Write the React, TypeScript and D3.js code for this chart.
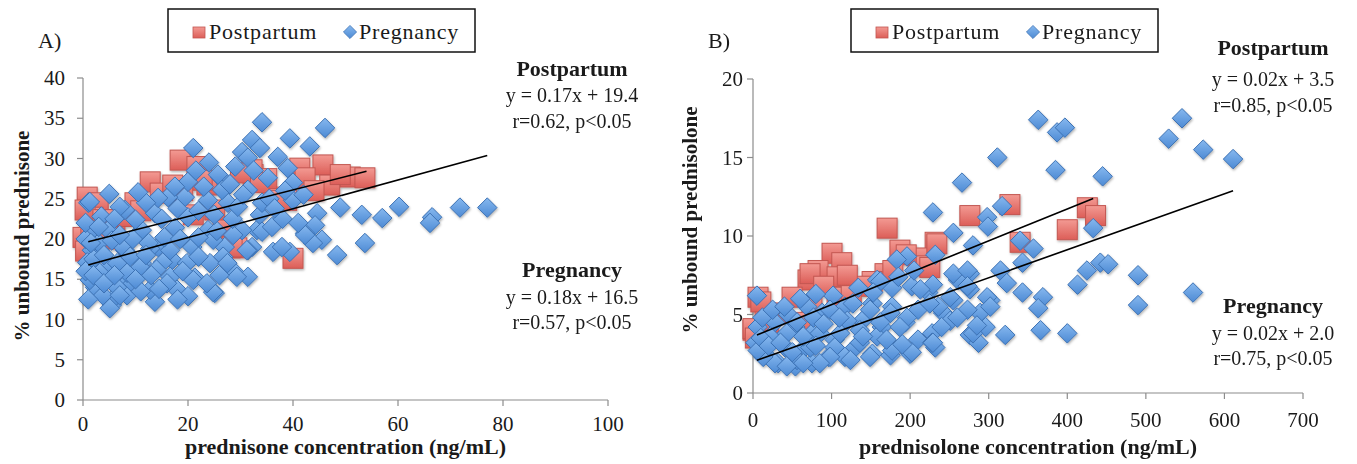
import React from "react";
import * as d3 from "d3";

// ---- Panel A: prednisone ----
const aTicksX = [0, 20, 40, 60, 80, 100];
const aTicksY = [0, 5, 10, 15, 20, 25, 30, 35, 40];

const aPostpartum: [number, number][] = [
  [18.5, 29.8], [21.7, 29], [12.8, 27.1], [32.4, 28], [41.3, 28.8], [45.7, 29.2], [50.9, 27.7],
  [53.7, 27.6], [42.3, 27.6], [47, 26.7], [0.8, 25.2], [2.9, 24.5], [36.2, 25.2], [38.8, 24.8],
  [14.7, 25.7], [17.1, 26.7], [9.9, 24.5], [23.6, 26.7], [1.9, 22.7], [4.6, 22], [0, 20.2],
  [26.7, 21.5], [29.3, 18.9], [40, 17.6], [28, 18.9], [0.4, 23.6], [3.8, 22.4], [6.1, 22.4],
  [22.7, 27.3], [32.2, 28.6], [25.1, 23.6], [28.4, 19], [35, 27.5], [37.5, 24.8], [0.5, 18.5],
  [1.5, 21], [8, 22.8], [11, 23.5], [19, 26], [21, 23], [33.5, 27], [30, 28.2], [2.5, 20.5],
  [6, 20], [44, 26], [49, 28],
];

const aPregnancy: [number, number][] = [
  [34.1, 34.5], [39.4, 32.5], [46.1, 33.8], [43.2, 31.5], [21, 31.3], [32.2, 32.3], [30.3, 30.8],
  [33.7, 31.3], [31.4, 30.1], [37.1, 30.2], [39, 28.8], [35.2, 27.6], [40, 27], [26.1, 27.7],
  [1, 24.5], [49, 23.9], [53.1, 23], [57, 22.6], [60.2, 24], [66.5, 22.7], [66.1, 22], [71.8, 23.9],
  [77, 23.9], [44.6, 23.2], [44.2, 21.7], [42.3, 20.7], [45.5, 19.9], [43.8, 19.5], [53.7, 19.5],
  [48.4, 18], [36.2, 18.4], [39.4, 18.4], [37.9, 19], [40, 24.8], [33.1, 21.1], [33.7, 23],
  [32.2, 19], [29, 15.8], [13.7, 12.2], [5.5, 11.8], [2.3, 14], [17.9, 13.7], [25.1, 13.3],
  [8.6, 14.7], [21.3, 15.2], [24.2, 17], [11.2, 17], [17, 17.4], [4.8, 16.5], [1.7, 18.6],
  [8, 18.6], [14.3, 19], [20.8, 19], [27, 19], [31.4, 18.6], [34.1, 20.9], [30.3, 21.1],
  [23.8, 21.1], [17.5, 21.4], [11.2, 21.1], [4.8, 21.1], [2.3, 21.1], [8, 23.6], [13.7, 23.2],
  [20, 22.7], [23.8, 24.8], [27.6, 24.5], [34.1, 24.5], [19.4, 25.2], [16.2, 25.2], [26.5, 26.1],
  [20, 27.1], [25.7, 28], [31.4, 26.1], [31.4, 15.3], [6.1, 12.8], [7, 24], [14.3, 25.1],
  [1.3, 24.6], [5.1, 11.4], [24.8, 13.4], [29.3, 15.3], [2.7, 13.7], [8.4, 13], [21, 14.9],
  [0.8, 17.1], [42.3, 20.5], [26.7, 17.8], [31.2, 18.6], [9.5, 14.5], [12.8, 13.7], [16.6, 15.3],
  [23.6, 14.5], [19.8, 17], [15.2, 17.1], [10.9, 16.5], [6.5, 17], [3.2, 15.8], [1.3, 14.9],
  [8.4, 15.8], [16.6, 18.6], [12.8, 18.8], [7.6, 19], [3.2, 18.6], [24.8, 19.9], [28.6, 20.5],
  [3, 19.5], [5.5, 19.8], [9.5, 20], [12.5, 19.5], [15.5, 20.2], [18.5, 20], [22, 20.2],
  [25.5, 21], [28.5, 22.5], [3.5, 22.8], [6, 22.5], [10, 22.4], [12, 24.5], [15, 22.5],
  [18, 23.8], [22, 23.5], [25, 23], [29.5, 24], [30.5, 25.5], [28, 26.8], [23, 26.5],
  [17.5, 26.5], [10.5, 25.8], [5, 25.6], [2, 17.5], [4, 18], [7, 20.5], [9, 17.8], [12, 18],
  [14, 16.2], [16, 14.5], [19, 16], [22, 17.8], [26, 15.5], [27.5, 17], [3.8, 13], [6.5, 14],
  [11, 13.5], [14.5, 13.8], [20, 12.9], [0.5, 16], [0.5, 20], [0.5, 22], [1, 12.5], [36, 21.5],
  [35.5, 25], [38, 22.5], [41, 22], [38.5, 26], [42, 25.5], [36.5, 23.8], [32.5, 28.5],
  [29, 29], [24, 29.5], [21.5, 28.5], [2, 15.5], [4, 14.5], [6, 15.5], [3, 21.5], [1.5, 19.5],
  [7, 13], [10, 15], [13, 15.5], [18, 12.5],
];

// slope, intercept, x from, x to
const aFitPostpartum = [0.165, 19.5, 1, 54];
const aFitPregnancy = [0.179, 16.6, 1, 77];
const aNotePostpartum = ["Postpartum", "y = 0.17x + 19.4", "r=0.62, p<0.05"];
const aNotePregnancy = ["Pregnancy", "y = 0.18x + 16.5", "r=0.57, p<0.05"];

// ---- Panel B: prednisolone ----
const bTicksX = [0, 100, 200, 300, 400, 500, 600, 700];
const bTicksY = [0, 5, 10, 15, 20];

const bPostpartum: [number, number][] = [
  [170.7, 10.5], [100.6, 8.9], [113, 8.3], [82.8, 7.8], [70, 7.2], [107, 7.4], [49.7, 6.1],
  [6.4, 6.1], [15.3, 5.1], [0, 4], [231.8, 9.6], [187, 9.1], [210, 8.6], [219, 8.1], [168, 7.6],
  [151.6, 7.1], [75, 5.5], [107, 6.1], [31.8, 5.1], [72.6, 7.6], [327, 12], [276, 11.3],
  [340, 9.6], [425.5, 11.8], [436, 11.3], [400, 10.4], [234, 9.5], [0, 4.1], [3, 3.5],
  [10, 5.8], [20, 4.5], [140, 6.8], [195, 8.8], [225, 8], [120, 7.5], [178, 7.8], [60, 4.5],
  [125, 6.2], [90, 6.8],
];

const bPregnancy: [number, number][] = [
  [363, 17.4], [387, 16.6], [397, 16.9], [311, 15], [385, 14.2], [445, 13.8], [266, 13.4],
  [229, 11.5], [317, 11.9], [298, 11.2], [299, 10.6], [255, 10.2], [280, 9.4], [340, 9.7],
  [357, 9.2], [433, 10.5], [343, 8.3], [315, 7.8], [425, 7.8], [442, 8.3], [452, 8.2], [323, 7],
  [413, 6.9], [343, 6.4], [369, 6.1], [363, 5.4], [302, 5.9], [276, 7.6], [261, 7.2], [255, 5.9],
  [276, 6.6], [289, 5.1], [296, 4.2], [276, 3.7], [287, 3.2], [321, 3.7], [366, 4], [400, 3.8],
  [242, 5.1], [232, 2.9], [546, 17.5], [529, 16.2], [573, 15.5], [611, 14.9], [490, 7.5],
  [490, 5.6], [560, 6.4], [5, 6.2], [196, 8.7], [183, 8.5], [232, 8.8], [158, 7.2], [102, 6.2],
  [69, 5.5], [45, 5], [134, 6.7], [177, 6.7], [202, 6.8], [223, 6.4], [117, 5.5], [152, 5.7],
  [177, 5.5], [210, 5.3], [236, 5.5], [88, 5.1], [139, 4.6], [164, 4.2], [194, 4.5], [228, 3.8],
  [210, 3.4], [200, 2.5], [175, 2.4], [152, 2.5], [130, 2.9], [104, 3.4], [75, 3.8], [54, 4.2],
  [28, 4.5], [6, 4.2], [3, 3.2], [15, 2.5], [32, 1.9], [54, 1.7], [75, 1.9], [96, 2.3],
  [117, 2.3], [41, 2.9], [66, 2.9], [228, 3.2], [280, 3.8], [298, 6.1], [302, 5.5], [285, 4.3],
  [255, 7.6], [273, 7.8], [229, 6.9], [229, 3.2], [196, 4.8], [177, 2.7], [202, 2.6], [158, 3.6],
  [136, 3.2], [104, 2.9], [73, 2.9], [56, 2.1], [28, 1.9], [13, 2.3], [6, 2.7], [127, 5.7],
  [162, 7.1], [153, 6.4], [273, 6.8], [251, 6.1], [225, 5.7], [251, 4.6], [273, 5.3], [213, 6.6],
  [175, 5.1], [149, 5.3], [120, 4.6], [98, 5.3], [77, 4.8], [56, 4.5], [43, 3.8], [22, 3.6],
  [64, 3.6], [85, 3.8], [111, 3.8], [136, 4], [162, 4.5], [187, 4.2], [98, 2.3], [124, 2.1],
  [149, 2.3], [85, 1.9], [43, 1.7], [64, 1.9], [10, 3.5], [20, 3], [35, 3.2], [50, 2.6],
  [80, 3], [90, 4.4], [110, 4.8], [140, 3.6], [170, 3.4], [190, 3.1], [240, 4.2], [260, 4.8],
  [12, 4.8], [25, 5.3], [40, 5.5], [60, 6], [80, 6.3], [185, 7.4], [205, 7.8],
];

const bFitPostpartum = [0.0203, 3.6, 5, 433];
const bFitPregnancy = [0.0178, 2.0, 5, 611];
const bNotePostpartum = ["Postpartum", "y = 0.02x + 3.5", "r=0.85, p<0.05"];
const bNotePregnancy = ["Pregnancy", "y = 0.02x + 2.0", "r=0.75, p<0.05"];

const FONT = "'Liberation Serif', 'Times New Roman', serif";
const AXIS = "#8c8c8c";

function Panel(p: any) {
  const x = d3.scaleLinear().domain(p.xDomain).range(p.xRange);
  const y = d3.scaleLinear().domain(p.yDomain).range(p.yRange);
  const fitPath = (f: number[]) =>
    d3.line<number>().x((d) => x(d)).y((d) => y(f[0] * d + f[1]))([f[2], f[3]]) || "";
  const diamond = d3.symbol().type(d3.symbolDiamond2).size(242)() || "";
  const lg = p.legendX;
  return (
    <g fontFamily={FONT} fill="#1a1a1a">
      <text x={p.labelX} y={48} fontSize={22}>{p.label}</text>

      {/* legend */}
      <rect x={lg} y={9} width={307} height={43} fill="white" stroke="#111" strokeWidth={1.5} />
      <rect x={lg + 25} y={27} width={12} height={11} fill="url(#sqGrad)" stroke="#c25650" strokeWidth={0.8} />
      <text x={lg + 41} y={39} fontSize={22} letterSpacing={0.8}>Postpartum</text>
      <path d={d3.symbol().type(d3.symbolDiamond2).size(110)() || ""} transform={`translate(${lg + 182},32)`}
        fill="url(#dmGrad)" stroke="#3d72b4" strokeWidth={0.8} />
      <text x={lg + 191} y={39} fontSize={22} letterSpacing={0.8}>Pregnancy</text>

      {/* axes */}
      <line x1={p.xRange[0]} x2={p.xRange[0]} y1={p.yRange[0]} y2={p.yRange[1]} stroke={AXIS} strokeWidth={1.2} />
      <line x1={p.xRange[0]} x2={p.xRange[1]} y1={p.yRange[0]} y2={p.yRange[0]} stroke={AXIS} strokeWidth={1.2} />
      {p.yTicks.map((t: number) => (
        <g key={"y" + t}>
          <line x1={p.xRange[0] - 6} x2={p.xRange[0]} y1={y(t)} y2={y(t)} stroke={AXIS} strokeWidth={1.2} />
          <text x={p.yLabelX} y={y(t)} dy="0.34em" textAnchor="end" fontSize={21}>{t}</text>
        </g>
      ))}
      {p.xTicks.map((t: number) => (
        <g key={"x" + t}>
          <line x1={x(t)} x2={x(t)} y1={p.yRange[0]} y2={p.yRange[0] + 6} stroke={AXIS} strokeWidth={1.2} />
          <text x={x(t)} y={p.xLabelY} textAnchor="middle" fontSize={21}>{t}</text>
        </g>
      ))}
      <text x={(p.xRange[0] + p.xRange[1]) / 2} y={454} textAnchor="middle" fontSize={22} fontWeight="bold">{p.xTitle}</text>
      <text transform={`translate(${p.yTitleX},${p.yTitleY}) rotate(-90)`} textAnchor="middle" dy="0.35em" fontSize={21} fontWeight="bold">{p.yTitle}</text>

      {/* marks */}
      <g filter="url(#shadow)">
        {p.post.map((d: [number, number], i: number) => (
          <rect key={"p" + i} x={x(d[0]) - 10} y={y(d[1]) - 10} width={20} height={20}
            fill="url(#sqGrad)" stroke="#c25650" strokeWidth={1} />
        ))}
        {p.preg.map((d: [number, number], i: number) => (
          <path key={"g" + i} d={diamond} transform={`translate(${x(d[0])},${y(d[1])})`}
            fill="url(#dmGrad)" stroke="#3d72b4" strokeWidth={1} />
        ))}
      </g>
      <path d={fitPath(p.fitPost)} stroke="#000" strokeWidth={1.6} fill="none" />
      <path d={fitPath(p.fitPreg)} stroke="#000" strokeWidth={1.6} fill="none" />

      {/* annotations */}
      {[p.notePost, p.notePreg].map((note: string[], k: number) =>
        note.map((s, i) => (
          <text key={k + "-" + i} x={p.noteX} y={p.noteY[k][i]} textAnchor="middle"
            fontSize={i === 0 ? 22 : 20} fontWeight={i === 0 ? "bold" : "normal"}>{s}</text>
        ))
      )}
    </g>
  );
}

export default function App() {
  return (
    <svg width={1357} height={464} style={{ position: "absolute", left: 0, top: 0, background: "white" }}>
      <defs>
        <linearGradient id="sqGrad" x1="0" y1="0" x2="0" y2="1">
          <stop offset="0" stopColor="#f39a93" />
          <stop offset="1" stopColor="#dc5e58" />
        </linearGradient>
        <linearGradient id="dmGrad" x1="0" y1="0" x2="0" y2="1">
          <stop offset="0" stopColor="#86b8ef" />
          <stop offset="1" stopColor="#4d8ad4" />
        </linearGradient>
        <filter id="shadow" x="-5%" y="-5%" width="110%" height="115%">
          <feDropShadow dx="0.8" dy="1.5" stdDeviation="1.2" floodColor="#000" floodOpacity="0.3" />
        </filter>
      </defs>
      <rect width={1357} height={464} fill="white" />
      <Panel
        label="A)" labelX={38} legendX={168}
        xDomain={[0, 100]} xRange={[83, 608]} yDomain={[0, 40]} yRange={[400, 78]}
        xTicks={aTicksX} yTicks={aTicksY} yLabelX={65} xLabelY={431}
        xTitle="prednisone concentration (ng/mL)"
        yTitle="% unbound prednisone" yTitleX={22} yTitleY={236}
        post={aPostpartum} preg={aPregnancy} fitPost={aFitPostpartum} fitPreg={aFitPregnancy}
        notePost={aNotePostpartum} notePreg={aNotePregnancy} noteX={572}
        noteY={[[76, 102, 128], [277, 304, 329]]}
      />
      <Panel
        label="B)" labelX={708} legendX={851}
        xDomain={[0, 700]} xRange={[753, 1303]} yDomain={[0, 20]} yRange={[393, 79]}
        xTicks={bTicksX} yTicks={bTicksY} yLabelX={743} xLabelY={427}
        xTitle="prednisolone concentration (ng/mL)"
        yTitle="% unbound prednisolone" yTitleX={690} yTitleY={220}
        post={bPostpartum} preg={bPregnancy} fitPost={bFitPostpartum} fitPreg={bFitPregnancy}
        notePost={bNotePostpartum} notePreg={bNotePregnancy} noteX={1273}
        noteY={[[55, 86, 112], [313, 340, 365]]}
      />
    </svg>
  );
}
